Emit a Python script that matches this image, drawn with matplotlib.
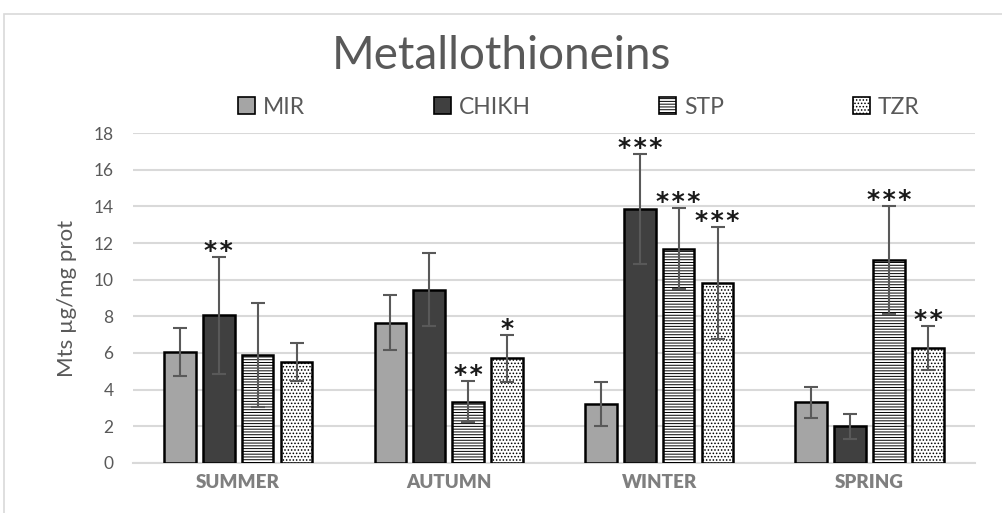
import matplotlib.pyplot as plt
import numpy as np
from matplotlib.patches import Rectangle, Patch

plt.rcParams['font.family'] = ['Lato', 'DejaVu Sans']
plt.rcParams['hatch.linewidth'] = 0.7

seasons = ['SUMMER', 'AUTUMN', 'WINTER', 'SPRING']
sites = ['MIR', 'CHIKH', 'STP', 'TZR']

mir = [6.05, 7.65, 3.2, 3.3]
chikh = [8.05, 9.45, 13.85, 2.0]
stp = [5.9, 3.35, 11.7, 11.05]
tzr = [5.5, 5.7, 9.8, 6.25]

mir_err = [1.3, 1.5, 1.2, 0.83]
chikh_err = [3.17, 2.0, 3.0, 0.68]
stp_err = [2.85, 1.1, 2.2, 2.95]
tzr_err = [1.05, 1.3, 3.05, 1.2]

mir_sig = ['', '', '', '']
chikh_sig = ['**', '', '***', '']
stp_sig = ['', '**', '***', '***']
tzr_sig = ['', '*', '***', '**']

values = [mir, chikh, stp, tzr]
errors = [mir_err, chikh_err, stp_err, tzr_err]
sigs = [mir_sig, chikh_sig, stp_sig, tzr_sig]
faces = ['#a5a5a5', '#404040', 'white', 'white']
hatches = [None, None, '------', '.....']

fig = plt.figure(figsize=(10.03, 5.13), dpi=100)
ax = fig.add_axes([0.1326, 0.0975, 0.8394, 0.6432])

x = np.arange(len(seasons))
w = 0.15
step = 0.185
for i in range(4):
    xs = x + (i - 1.5) * step
    ax.bar(xs, values[i], w, color=faces[i], edgecolor='black', linewidth=1.8,
           hatch=hatches[i], zorder=3)
    ax.errorbar(xs, values[i], yerr=errors[i], fmt='none', ecolor='#595959',
                elinewidth=1.5, capsize=5, capthick=1.5, zorder=4)
    for xx, v, e, s in zip(xs, values[i], errors[i], sigs[i]):
        if s:
            # asterisks sit just above the error cap
            ax.text(xx, v + e - 0.05, '\u200a'.join(s), ha='center', va='baseline',
                    fontsize=18, fontweight='bold', family='DejaVu Sans',
                    color='#1a1a1a', zorder=5)

ax.set_xlim(-0.5, 3.5)
ax.set_ylim(0, 18)
ax.set_yticks(np.arange(0, 19, 2))
ax.set_xticks(x)
ax.set_xticklabels(seasons, fontsize=13.5, fontweight='heavy', color='#7f7f7f')
ax.tick_params(axis='y', labelsize=12.5, colors='#595959', length=0, pad=14)
ax.tick_params(axis='x', length=0, pad=8)
ax.yaxis.grid(True, color='#d9d9d9', linewidth=1.5, zorder=0)
ax.set_axisbelow(True)
for sp in ['top', 'right', 'left']:
    ax.spines[sp].set_visible(False)
ax.spines['bottom'].set_color('#d9d9d9')
ax.spines['bottom'].set_linewidth(1.5)
ax.set_ylabel('Mts µg/mg prot', fontsize=16, color='#595959', labelpad=12)

fig.text(0.5, 0.89, 'Metallothioneins', ha='center', va='center',
         fontsize=33, color='#595959')

handles = [Patch(facecolor=faces[i], edgecolor='black', linewidth=1.2,
                 hatch=hatches[i]) for i in range(4)]
fig.legend(handles, sites, loc='center', bbox_to_anchor=(0.577, 0.791),
           ncol=4, frameon=False, fontsize=16.5, handlelength=0.75,
           handleheight=0.75, handletextpad=0.35, columnspacing=5.6,
           labelcolor='#595959')

# outer chart frame
fig.patches.append(Rectangle((4 / 1003, -0.1), 1.2, 1.1 - 14 / 513,
                             transform=fig.transFigure, fill=False,
                             edgecolor='#d9d9d9', linewidth=1.2))

fig.savefig('out.png', dpi=100, facecolor='white')
